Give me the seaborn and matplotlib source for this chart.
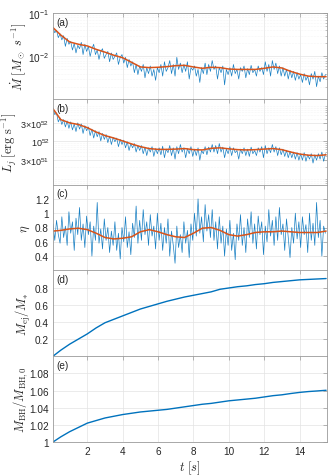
import numpy as np
import matplotlib
matplotlib.use("Agg")
import matplotlib.pyplot as plt
import matplotlib.ticker as mticker
import seaborn as sns

# ---------------- data ----------------
t_noise = np.round(0.06 + 0.1 * np.arange(155), 2)

mdot_noise_e3 = [46, 35, 40, 27, 33, 24, 30, 17, 26, 19, 22, 14, 20, 12, 18,
                 15, 21, 11, 19, 13, 17, 10, 15, 19, 11, 14, 8.5, 13, 15, 9,
                 11, 13, 7.5, 12, 8.5, 10, 12, 6.5, 9.5, 11, 7, 9.5, 5.5, 8.5, 6,
                 7.5, 4.2, 6.5, 3.8, 6, 4.5, 6.5, 3.2, 5.5, 4.0, 6, 3.5, 5, 2.8, 5.5,
                 4.2, 6.5, 3.5, 7.5, 4.5, 5.5, 8.0, 4.0, 6.5, 3.5, 9.5, 5.0, 7.0, 4.2, 6.5,
                 4.5, 7.5, 3.0, 5.5, 4.8, 6.0, 3.5, 5.0, 2.5, 5.5, 4.0, 7.0, 3.8, 6.5, 4.5,
                 8.0, 5.0, 6.0, 3.0, 5.5, 4.2, 6.0, 2.2, 5.0, 3.8, 5.5, 3.5, 6.5, 4.0, 5.0,
                 3.0, 5.5, 4.5, 6.0, 3.2, 5.2, 3.8, 6.2, 4.2, 5.0, 3.5, 6.0, 4.5, 5.5, 3.8,
                 7.5, 4.5, 6.5, 3.5, 8.0, 5.0, 7.0, 4.0, 6.0, 3.5, 5.5, 3.5, 5.0, 3.0, 4.8,
                 3.2, 4.5, 2.8, 4.2, 3.0, 3.8, 2.5, 4.0, 2.8, 3.5, 2.2, 4.0, 3.0, 4.5, 2.0,
                 3.5, 2.6, 4.2, 3.0, 3.8]

lj_noise_e51 = [80, 52, 58, 33, 42, 28, 38, 24, 35, 22, 33, 20, 29, 18, 31,
                21, 29, 16, 26, 19, 24, 14, 21, 12, 19, 13, 18, 10, 16, 11,
                15, 9, 13.5, 8, 12.5, 9.5, 12, 7, 11, 8, 10.5, 6.5, 9.5, 5.5, 8.5,
                6.5, 8.5, 5, 7.5, 5.5, 7.5, 4.5, 6.8, 4.0, 6.5, 5.0, 7.0, 3.8, 6.2, 4.5,
                6.5, 4.2, 7.2, 3.5, 6.0, 4.8, 7.5, 4.0, 6.5, 3.2, 7.0, 4.5, 8.0, 5.0, 6.5,
                3.5, 6.2, 4.5, 7.0, 3.8, 6.0, 4.0, 6.5, 3.0, 5.5, 4.5, 7.0, 4.2, 6.8, 5.0,
                8.0, 5.0, 7.5, 4.5, 8.5, 5.0, 6.8, 3.5, 6.0, 4.5, 7.0, 4.0, 6.5, 4.8, 5.5,
                3.2, 6.0, 4.5, 6.5, 4.0, 6.0, 3.8, 6.8, 4.5, 5.5, 4.0, 6.5, 5.0, 7.0, 3.5,
                7.5, 4.5, 6.5, 4.8, 8.0, 5.0, 7.0, 4.0, 6.5, 4.2, 6.0, 3.8, 5.5, 3.5, 5.2,
                3.5, 5.0, 3.2, 4.8, 3.0, 4.5, 3.0, 4.8, 2.8, 4.2, 3.2, 4.5, 2.5, 4.2, 3.0,
                4.5, 3.2, 5.0, 2.8, 4.5]

eta_noise = [0.85, 0.62, 0.90, 0.70, 0.58, 0.95, 0.66, 0.82, 0.55, 1.02,
             0.72, 0.88, 0.48, 0.93, 0.70, 1.08, 0.62, 0.85, 0.52, 0.96,
             0.70, 0.88, 0.40, 0.82, 0.62, 1.15, 0.58, 0.78, 0.50, 0.92,
             0.62, 0.80, 0.45, 0.75, 0.55, 0.88, 0.48, 0.72, 0.36, 0.80,
             0.60, 0.95, 0.52, 0.74, 0.42, 0.86, 0.66, 1.10, 0.58, 0.90,
             0.62, 1.05, 0.70, 0.88, 0.55, 0.98, 0.68, 0.82, 0.50, 1.00,
             0.62, 0.86, 0.48, 0.80, 0.58, 0.92, 0.40, 0.75, 0.55, 0.30,
             0.82, 0.52, 0.70, 0.45, 0.88, 0.58, 0.76, 0.38, 0.85, 0.62,
             1.00, 0.68, 1.20, 0.72, 0.95, 0.60, 1.12, 0.75, 0.98, 0.66,
             1.05, 0.62, 0.88, 0.50, 0.95, 0.58, 0.82, 0.40, 0.78, 0.55,
             0.90, 0.48, 0.72, 0.35, 0.85, 0.62, 0.98, 0.55, 0.80, 0.45,
             0.92, 0.66, 1.02, 0.58, 0.85, 0.50, 0.96, 0.70, 0.88, 0.42,
             0.82, 0.60, 1.05, 0.68, 0.90, 0.55, 0.95, 0.62, 1.08, 0.70,
             0.85, 0.48, 0.92, 0.66, 0.38, 0.80, 0.58, 1.00, 0.64, 0.88,
             0.52, 0.95, 0.70, 0.84, 0.45, 1.00, 0.62, 0.86, 0.55, 1.15,
             0.66, 0.90, 0.40, 0.82, 0.72]

t_smooth = [0.06, 0.5, 1.0, 1.5, 2.0, 2.5, 3.0, 3.5, 4.0, 4.5, 5.0, 5.5, 6.0, 6.5, 7.0, 7.5,
            8.0, 8.5, 9.0, 9.5, 10.0, 10.5, 11.0, 11.5, 12.0, 12.5, 13.0, 13.5, 14.0, 14.5,
            15.0, 15.5]
mdot_smooth_e3 = [46, 31, 21.5, 19, 17.4, 14.5, 12.5, 10.6, 9.3, 7.3, 5.7, 5.5, 5.6, 5.8, 6.1, 6.2,
                  5.7, 5.3, 5.6, 5.5, 5.1, 5.0, 5.0, 5.0, 5.3, 5.7, 5.4, 4.5, 3.9, 3.5, 3.4, 3.4]
lj_smooth_e51 = [75, 38, 31, 28, 23, 17.5, 14, 12, 10, 8.3, 7.0, 6.2, 5.9, 5.9, 6.0, 6.2,
                 5.8, 5.7, 6.3, 6.5, 6.1, 5.8, 5.7, 5.8, 6.0, 6.2, 5.8, 5.0, 4.4, 4.1, 4.0, 4.2]
eta_smooth = [0.75, 0.76, 0.78, 0.79, 0.77, 0.72, 0.66, 0.64, 0.65, 0.67, 0.74, 0.77, 0.74, 0.70,
              0.67, 0.66, 0.72, 0.79, 0.80, 0.76, 0.70, 0.68, 0.70, 0.73, 0.74, 0.74, 0.75, 0.74,
              0.73, 0.73, 0.73, 0.75]
mej_ratio = [0.0, 0.07, 0.14, 0.20, 0.26, 0.33, 0.39, 0.43, 0.47, 0.51, 0.55, 0.58, 0.61, 0.64,
             0.665, 0.69, 0.71, 0.73, 0.75, 0.78, 0.795, 0.81, 0.82, 0.835, 0.845, 0.86, 0.87,
             0.88, 0.89, 0.895, 0.90, 0.905]
mbh_ratio = [1.0, 1.006, 1.012, 1.017, 1.022, 1.025, 1.028, 1.030, 1.032, 1.0335, 1.035, 1.036,
             1.037, 1.038, 1.0395, 1.041, 1.0425, 1.044, 1.045, 1.0465, 1.048, 1.049, 1.050,
             1.051, 1.0525, 1.054, 1.055, 1.0565, 1.0578, 1.0588, 1.0595, 1.0603]

x_ticks = [2, 4, 6, 8, 10, 12, 14]
panel_labels = ["(a)", "(b)", "(c)", "(d)", "(e)"]

# ---------------- style ----------------
sns.set_style("white")
plt.rcParams["font.family"] = ["Liberation Sans", "DejaVu Sans"]
plt.rcParams["mathtext.fontset"] = "custom"
plt.rcParams["mathtext.rm"] = "Liberation Sans"
plt.rcParams["mathtext.it"] = "Liberation Sans:italic"
plt.rcParams["mathtext.bf"] = "Liberation Sans:bold"

BLUE = "#0072BD"
ORANGE = "#D95319"
TXT = "#262626"
SPINE = "#9a9a9a"
TICK_FS = 7.2
LAB_FS = 9

fig = plt.figure(figsize=(3.30, 4.77), dpi=100)
left, width = 53 / 330, 274 / 330
top_px, h_px = 14, 85.8
axes = []
for i in range(5):
    y0 = 1 - (top_px + (i + 1) * h_px) / 477
    ax = fig.add_axes([left, y0, width, h_px / 477])
    axes.append(ax)

mdot_noise = np.array(mdot_noise_e3) * 1e-3
mdot_smooth = np.array(mdot_smooth_e3) * 1e-3
lj_noise = np.array(lj_noise_e51) * 1e51
lj_smooth = np.array(lj_smooth_e51) * 1e51

NLW = 0.5
sns.lineplot(x=t_noise, y=mdot_noise, ax=axes[0], color=BLUE, lw=NLW, alpha=0.9)
sns.lineplot(x=t_smooth, y=mdot_smooth, ax=axes[0], color=ORANGE, lw=1.1)
sns.lineplot(x=t_noise, y=lj_noise, ax=axes[1], color=BLUE, lw=NLW, alpha=0.9)
sns.lineplot(x=t_smooth, y=lj_smooth, ax=axes[1], color=ORANGE, lw=1.1)
sns.lineplot(x=t_noise, y=eta_noise, ax=axes[2], color=BLUE, lw=NLW, alpha=0.9)
sns.lineplot(x=t_smooth, y=eta_smooth, ax=axes[2], color=ORANGE, lw=1.1)
sns.lineplot(x=t_smooth, y=mej_ratio, ax=axes[3], color=BLUE, lw=1.0)
sns.lineplot(x=t_smooth, y=mbh_ratio, ax=axes[4], color=BLUE, lw=1.0)

fmt_g = mticker.FuncFormatter(lambda v, p: f"{v:g}")

def px_to_axes_x(px):
    return (px - 53) / 274

# (a)
ax = axes[0]
ax.set_yscale("log")
ax.set_ylim(1.05e-3, 1e-1)
ax.set_yticks([1e-2, 1e-1])
ax.set_yticklabels([r"$10^{-2}$", r"$10^{-1}$"])
ax.yaxis.set_minor_locator(mticker.LogLocator(base=10, subs=np.arange(2, 10)))
ax.yaxis.set_minor_formatter(mticker.NullFormatter())
ax.set_ylabel(r"$\dot{M}\ [M_\odot\ s^{-1}]$", math_fontfamily="cm", fontsize=LAB_FS, color=TXT)
ax.yaxis.set_label_coords(px_to_axes_x(28), 0.5)

# (b)
ax = axes[1]
ax.set_yscale("log")
ax.set_ylim(6.5e50, 1.4e53)
ax.set_yticks([3e51, 1e52, 3e52])
ax.set_yticklabels([r"$3{\times}10^{51}$", r"$10^{52}$", r"$3{\times}10^{52}$"])
ax.yaxis.set_minor_locator(mticker.LogLocator(base=10, subs=np.arange(2, 10)))
ax.yaxis.set_minor_formatter(mticker.NullFormatter())
ax.set_ylabel(r"$L_j\;[\mathrm{erg\;s}^{-1}]$", math_fontfamily="cm", fontsize=LAB_FS, color=TXT)
ax.yaxis.set_label_coords(px_to_axes_x(19.5), 0.5)

# (c)
ax = axes[2]
ax.set_ylim(0.2, 1.4)
ax.set_yticks([0.4, 0.6, 0.8, 1.0, 1.2])
ax.yaxis.set_major_formatter(fmt_g)
ax.set_ylabel(r"$\eta$", math_fontfamily="cm", fontsize=LAB_FS, color=TXT)
ax.yaxis.set_label_coords(px_to_axes_x(32), 0.5)

# (d)
ax = axes[3]
ax.set_ylim(0.0, 1.0)
ax.set_yticks([0.2, 0.4, 0.6, 0.8])
ax.yaxis.set_major_formatter(fmt_g)
ax.set_ylabel(r"$M_{\rm ej}/M_{*}$", math_fontfamily="cm", fontsize=LAB_FS, color=TXT)
ax.yaxis.set_label_coords(px_to_axes_x(33), 0.5)

# (e)
ax = axes[4]
ax.set_ylim(1.0, 1.1)
ax.set_yticks([1.0, 1.02, 1.04, 1.06, 1.08])
ax.yaxis.set_major_formatter(fmt_g)
ax.set_ylabel(r"$M_{\rm BH}/M_{\rm BH,0}$", math_fontfamily="cm", fontsize=LAB_FS, color=TXT)
ax.yaxis.set_label_coords(px_to_axes_x(30), 0.5)
ax.set_xlabel(r"$t\ [s]$", math_fontfamily="cm", fontsize=LAB_FS, color=TXT, labelpad=1.5)

for i, ax in enumerate(axes):
    ax.set_xlim(0.06, 15.55)
    ax.set_xticks(x_ticks)
    if i < 4:
        ax.set_xticklabels([])
    else:
        ax.xaxis.set_major_formatter(fmt_g)
    ax.tick_params(which="both", direction="in", top=True, right=True,
                   labelsize=TICK_FS, colors=TXT, pad=3)
    ax.tick_params(which="major", length=3, width=0.5, color=SPINE)
    ax.tick_params(which="minor", length=1.6, width=0.4, color=SPINE)
    for s in ax.spines.values():
        s.set_color(SPINE)
        s.set_linewidth(0.6)
    ax.grid(True, which="major", color="#e3e3e3", lw=0.5)
    if ax.get_yscale() == "log":
        ax.grid(True, which="minor", axis="y", color="#ececec", lw=0.4, ls=":")
    ax.set_axisbelow(True)
    ax.text(0.012, 0.955, panel_labels[i], transform=ax.transAxes, va="top", ha="left",
            fontsize=TICK_FS, color=TXT)

axes[1].tick_params(axis="y", which="major", labelsize=6.5, pad=2.5)

fig.savefig("out.png", dpi=100)
